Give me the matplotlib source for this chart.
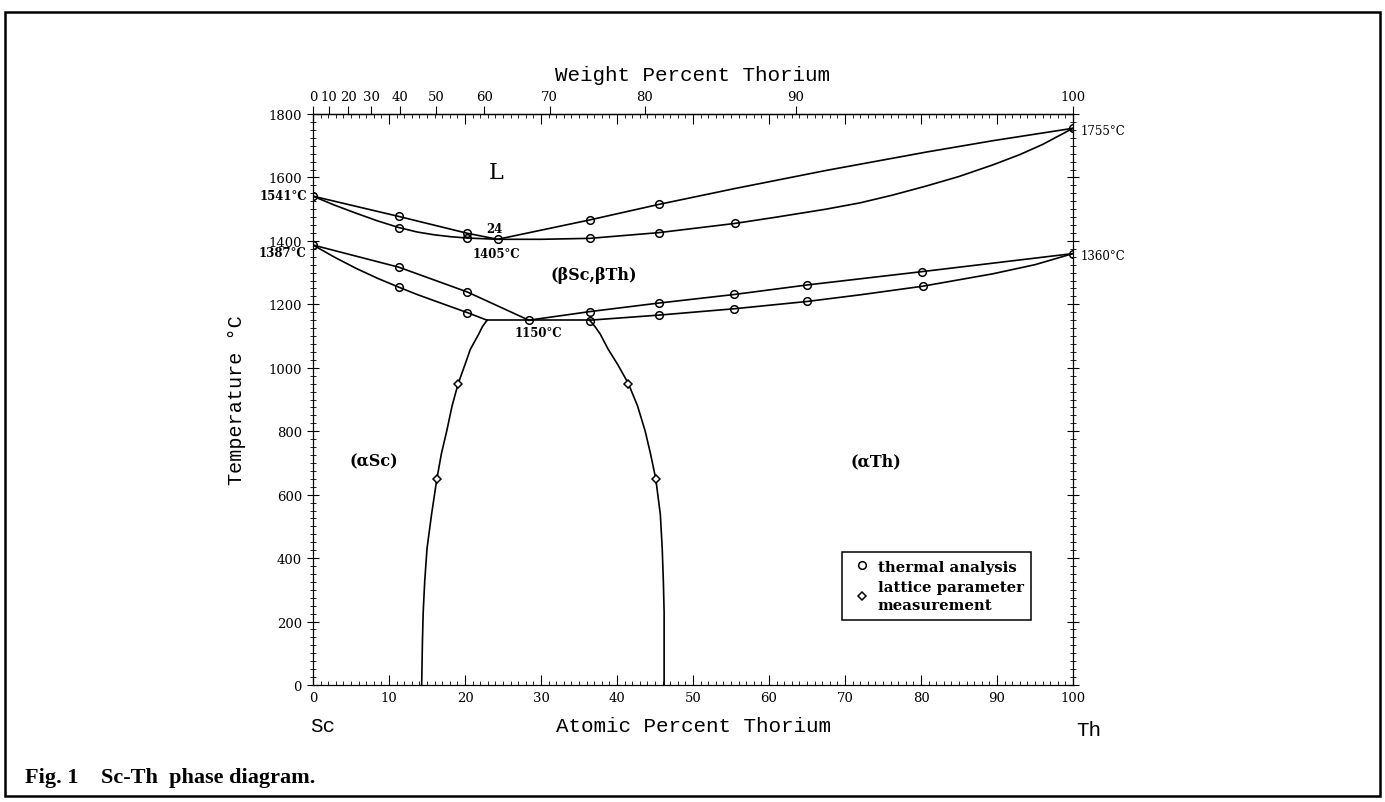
import numpy as np
import matplotlib
matplotlib.use("Agg")
import matplotlib.pyplot as plt
from matplotlib.patches import Rectangle

# ---------------- data ----------------
# thermal analysis points (at.% Th, °C)
ta_x = [0, 11.3, 11.3, 20.3, 20.3, 24.3, 36.4, 36.4, 45.5, 45.5, 55.5, 100,
        0, 11.3, 11.3, 20.3, 20.3, 28.4, 36.4, 36.4, 45.5, 45.5, 55.4, 55.4,
        65.0, 65.0, 80.1, 80.2, 100]
ta_T = [1541, 1477, 1442, 1424, 1409, 1405, 1466, 1408, 1515, 1426, 1455, 1755,
        1387, 1317, 1254, 1239, 1174, 1150, 1177, 1148, 1204, 1166, 1231, 1186,
        1261, 1209, 1303, 1257, 1360]

# lattice parameter measurement points
lp_x = [16.3, 19.1, 41.5, 45.1]
lp_T = [650, 950, 950, 650]

# liquidus
liq_x = [0, 11.3, 20.3, 24.3, 36.4, 45.5, 55.5, 67.5, 80.7, 89.5, 100]
liq_T = [1541, 1477, 1424, 1405, 1466, 1515, 1565, 1622, 1680, 1716, 1755]
# solidus
sol_x = [0, 2.8, 5.7, 8.5, 11.3, 13.7, 16.0, 18.2, 20.3, 24.3, 30.0, 36.4, 45.5,
         55.5, 61.0, 67.5, 72.0, 76.2, 80.7, 85.0, 89.5, 93.0, 96.0, 100]
sol_T = [1541, 1513, 1487, 1463, 1442, 1428, 1419, 1413, 1409, 1405, 1405, 1408, 1426,
         1455, 1475, 1500, 1520, 1544, 1573, 1603, 1640, 1672, 1704, 1755]
# transus lines, Sc side
tul_x = [0, 11.3, 20.3, 28.4]
tul_T = [1387, 1317, 1239, 1150]
tll_x = [0, 2.8, 5.7, 8.5, 11.3, 13.7, 16.0, 18.2, 20.3, 22.9]
tll_T = [1387, 1349, 1313, 1282, 1254, 1231, 1211, 1192, 1174, 1150]
# eutectoid
eut_x = [22.9, 36.4]
eut_T = [1150, 1150]
# transus lines, Th side
tur_x = [28.4, 36.4, 45.5, 55.4, 65.0, 80.1, 100]
tur_T = [1150, 1177, 1204, 1231, 1261, 1303, 1360]
tlr_x = [36.4, 45.5, 55.4, 65.0, 72.0, 80.2, 89.4, 95.0, 100]
tlr_T = [1150, 1166, 1186, 1209, 1230, 1257, 1296, 1325, 1360]
# solvus lines
svl_x = [22.9, 22.3, 21.8, 20.7, 20.0, 19.1, 18.3, 17.6, 16.9, 16.3, 15.6, 15.0, 14.7,
         14.5, 14.4, 14.3]
svl_T = [1150, 1130, 1106, 1058, 1010, 950, 880, 801, 730, 650, 538, 430, 327,
         230, 138, 0]
svr_x = [36.4, 37.1, 37.8, 38.8, 40.1, 41.5, 42.7, 43.7, 44.4, 45.1, 45.7, 45.95, 46.1,
         46.2, 46.2, 46.2]
svr_T = [1150, 1130, 1106, 1060, 1010, 950, 880, 801, 730, 650, 538, 430, 327,
         230, 138, 0]

curves = [(liq_x, liq_T), (sol_x, sol_T), (tul_x, tul_T), (tll_x, tll_T),
          (eut_x, eut_T), (tur_x, tur_T), (tlr_x, tlr_T), (svl_x, svl_T), (svr_x, svr_T)]

wt_ticks = list(range(0, 101, 10))

M_SC, M_TH = 44.956, 232.038


def at2wt(a):
    a = np.asarray(a, dtype=float)
    return 100 * a * M_TH / (a * M_TH + (100 - a) * M_SC)


def wt2at(w):
    w = np.asarray(w, dtype=float)
    return 100 * (w / M_TH) / (w / M_TH + (100 - w) / M_SC)


# ---------------- figure ----------------
W, H = 1385, 803
fig = plt.figure(figsize=(W / 100, H / 100), dpi=100)
L, R, T, B = 313, 1073, 115, 686
ax = fig.add_axes([L / W, 1 - B / H, (R - L) / W, (B - T) / H])

serif = "DejaVu Serif"
mono = "Liberation Mono"

for xs, ys in curves:
    ax.plot(xs, ys, color="black", lw=1.2, zorder=2, solid_joinstyle="round")

ax.plot(ta_x, ta_T, linestyle="none", marker="o", ms=5.5, mfc="none", mec="black",
        mew=1.1, zorder=3, label="thermal analysis")
ax.plot(lp_x, lp_T, linestyle="none", marker="D", ms=4, mfc="white", mec="black",
        mew=1.1, zorder=3, label="lattice parameter\nmeasurement")

ax.set_xlim(0, 100)
ax.set_ylim(0, 1800)
for s in ax.spines.values():
    s.set_linewidth(0.9)

# bottom (and mirrored top) atomic-percent ticks
ax.set_xticks(range(0, 101, 10))
ax.set_xticks(range(0, 101, 1), minor=True)
ax.tick_params(axis="x", which="major", direction="in", length=7, width=0.8,
               top=True, pad=4, labelsize=9.5)
ax.tick_params(axis="x", which="minor", direction="in", length=3, width=0.6, top=True)
for lab in ax.get_xticklabels():
    lab.set_family(serif)

# y axis
ax.set_yticks(range(0, 1801, 200))
ax.set_yticks(range(0, 1801, 25), minor=True)
ax.tick_params(axis="y", which="major", direction="inout", length=8, width=0.8,
               right=True, labelright=False, pad=4, labelsize=9.5)
ax.tick_params(axis="y", which="minor", direction="inout", length=4, width=0.6, right=True)
for lab in ax.get_yticklabels():
    lab.set_family(serif)

# top axis in weight percent
sec = ax.secondary_xaxis("top", functions=(at2wt, wt2at))
sec.set_xticks(wt_ticks)
sec.tick_params(axis="x", which="major", direction="out", length=6, width=0.8, pad=2,
                labelsize=9.5)
sec.tick_params(axis="x", which="minor", length=0)
for lab in sec.get_xticklabels():
    lab.set_family(serif)
sec.spines["top"].set_linewidth(0.9)
sec.set_xlabel("Weight Percent Thorium", family=mono, fontsize=15, labelpad=7)

ax.set_xlabel("Atomic Percent Thorium", family=mono, fontsize=15)
ax.xaxis.set_label_coords(0.5, (B - 727) / (B - T))
ax.xaxis.label.set_va("center")
ax.set_ylabel("Temperature °C", family=mono, fontsize=14.5)
ax.yaxis.set_label_coords((237 - L) / (R - L), 0.5)
ax.yaxis.label.set_va("center")

xt = ax.get_xaxis_transform()
ax.text(-0.4, (B - 727) / (B - T), "Sc", transform=xt, family=mono, fontsize=15,
        ha="left", va="center")
ax.text(100.4, (B - 731) / (B - T), "Th", transform=xt, family=mono, fontsize=15,
        ha="left", va="center")

# annotations
bold = dict(family=serif, fontweight="bold", fontsize=8.5)
ax.text(-0.8, 1544, "1541°C", ha="right", va="center", **bold)
ax.text(-0.9, 1362, "1387°C", ha="right", va="center", **bold)
ax.text(101.0, 1749, "1755°C", ha="left", va="center", family=serif, fontsize=8.5)
ax.text(101.0, 1354, "1360°C", ha="left", va="center", family=serif, fontsize=8.5)
ax.text(23.9, 1438, "24", ha="center", va="center", **bold)
ax.text(24.1, 1361, "1405°C", ha="center", va="center", **bold)
ax.text(29.6, 1111, "1150°C", ha="center", va="center", **bold)
ax.text(24.1, 1617, "L", ha="center", va="center", family=serif, fontsize=16)
ax.text(37.0, 1295, "(βSc,βTh)", ha="center", va="center", family=serif,
        fontweight="bold", fontsize=11.5)
ax.text(8.0, 707, "(αSc)", ha="center", va="center", family=serif,
        fontweight="bold", fontsize=11.5)
ax.text(74.0, 707, "(αTh)", ha="center", va="center", family=serif,
        fontweight="bold", fontsize=11.5)

leg = ax.legend(loc="lower left", bbox_to_anchor=(0.696, 0.114), borderaxespad=0,
                prop=dict(family=serif, weight="bold", size=10.7),
                frameon=True, fancybox=False, edgecolor="black", framealpha=1,
                handlelength=1.7, handletextpad=0.2, borderpad=0.5, labelspacing=0.4)
leg.get_frame().set_linewidth(1.1)
for t in leg.get_texts():
    t.set_linespacing(1.45)

# outer frame and caption
fig.add_artist(Rectangle((5 / W, 6 / H), 1375 / W, 784 / H, transform=fig.transFigure,
                         fill=False, lw=1.8, ec="black"))
fig.text(25 / W, 1 - 778 / H, "Fig. 1    Sc-Th  phase diagram.", family="Liberation Serif",
         fontweight="bold", fontsize=16, ha="left", va="center")

fig.savefig("out.png", dpi=100)
